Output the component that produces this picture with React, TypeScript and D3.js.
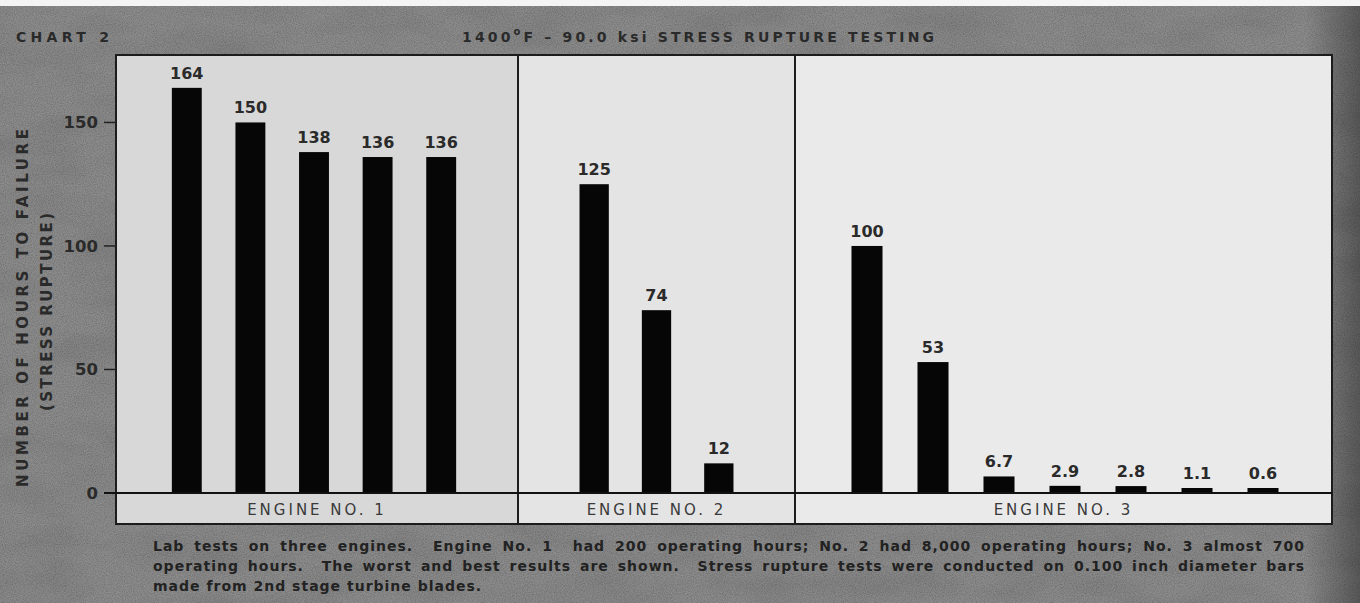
import React, { useLayoutEffect, useRef, useState } from "react";
import * as d3 from "d3";

const engineNames = ["ENGINE NO. 1", "ENGINE NO. 2", "ENGINE NO. 3"];
const engine1Hours = [164, 150, 138, 136, 136];
const engine2Hours = [125, 74, 12];
const engine3Hours = [100, 53, 6.7, 2.9, 2.8, 1.1, 0.6];
const yTicks = [0, 50, 100, 150];
const chartTag = "CHART 2";
const chartTitle = "1400";
const chartTitleRest = "F – 90.0 ksi STRESS RUPTURE TESTING";
const yTitle1 = "NUMBER OF HOURS TO FAILURE";
const yTitle2 = "(STRESS RUPTURE)";
const captionLines = [
  "Lab tests on three engines.  Engine No. 1  had 200 operating hours; No. 2 had 8,000 operating hours; No. 3 almost 700",
  "operating hours.  The worst and best results are shown.  Stress rupture tests were conducted on 0.100 inch diameter bars",
  "made from 2nd stage turbine blades.",
];

const W = 1360;
const H = 603;
const WIDE = "'DejaVu Sans', 'Liberation Sans', sans-serif";

// layout
const panelTop = 55;
const baseY = 493;
const stripBottom = 524;
const panelEdges = [116, 518, 795, 1332];
const panelPads = [
  [39, 45],
  [45, 45],
  [39, 36],
];
const panelFills = ["#d8d8d8", "#e4e4e4", "#eaeaea"];
const captionX = 153;
const captionRight = 1305;

export default function App() {
  const series = [engine1Hours, engine2Hours, engine3Hours];
  const y = d3.scaleLinear().domain([0, 177.3]).range([baseY, panelTop]);

  const panels = series.map((vals, p) => {
    const x0 = panelEdges[p];
    const x1 = panelEdges[p + 1];
    const x = d3
      .scaleBand<number>()
      .domain(d3.range(vals.length))
      .range([x0 + panelPads[p][0], x1 - panelPads[p][1]])
      .paddingInner(0.53)
      .paddingOuter(0.265);
    return { vals, x, x0, x1, p };
  });

  const capRefs = useRef<(SVGTextElement | null)[]>([]);
  const [wordSp, setWordSp] = useState<number[]>([0, 0, 0]);
  useLayoutEffect(() => {
    const ws = captionLines.map((line, i) => {
      const el = capRefs.current[i];
      if (!el || i === 2) return 0;
      const natural = el.getComputedTextLength();
      const spaces = (line.match(/ /g) || []).length;
      return spaces ? (captionRight - captionX - natural) / spaces : 0;
    });
    setWordSp(ws);
  }, []);

  const ink = "#2a2a2a";

  return (
    <svg
      width={W}
      height={H}
      viewBox={`0 0 ${W} ${H}`}
      style={{ position: "absolute", left: 0, top: 0, display: "block" }}
      fontFamily={WIDE}
    >
      <defs>
        <filter id="grain" x="0" y="0" width="100%" height="100%">
          <feTurbulence type="fractalNoise" baseFrequency="0.9" numOctaves="2" seed="3" />
          <feColorMatrix
            type="matrix"
            values="0 0 0 0 0  0 0 0 0 0  0 0 0 0 0  0 0 0 -1.6 1.05"
          />
        </filter>
        <filter id="blot" x="0" y="0" width="100%" height="100%">
          <feTurbulence type="fractalNoise" baseFrequency="0.012 0.03" numOctaves="3" seed="8" />
          <feColorMatrix
            type="matrix"
            values="0 0 0 0 0  0 0 0 0 0  0 0 0 0 0  0 0 0 -0.9 0.55"
          />
        </filter>
        <linearGradient id="rightShade" x1="0" x2="1" y1="0" y2="0">
          <stop offset="0" stopColor="#000" stopOpacity="0" />
          <stop offset="1" stopColor="#000" stopOpacity="0.35" />
        </linearGradient>
      </defs>

      {/* background */}
      <rect x={0} y={0} width={W} height={H} fill="#8c8c8c" />
      <rect x={0} y={0} width={W} height={H} filter="url(#blot)" opacity={0.15} />
      <rect x={0} y={0} width={W} height={H} filter="url(#grain)" opacity={0.22} />
      <rect x={1305} y={0} width={55} height={H} fill="url(#rightShade)" />
      <rect x={0} y={0} width={W} height={6} fill="#f4f4f4" />

      {/* title */}
      <text x={16} y={42} fontSize={14} fontWeight="bold" fill={ink} textLength={93} lengthAdjust="spacing">
        {chartTag}
      </text>
      <text x={462} y={42} fontSize={14} fontWeight="bold" fill={ink} textLength={472} lengthAdjust="spacing">
        {chartTitle}
        <tspan dy={-7} fontSize={10}>o</tspan>
        <tspan dy={7}>{chartTitleRest}</tspan>
      </text>

      {/* panels */}
      {panels.map(({ x0, x1, p }) => (
        <rect key={`pf${p}`} x={x0} y={panelTop} width={x1 - x0} height={stripBottom - panelTop} fill={panelFills[p]} />
      ))}

      {/* bars */}
      {panels.map(({ vals, x, p }) =>
        vals.map((v, i) => {
          const top = Math.min(y(v), baseY - 5);
          return (
            <g key={`b${p}-${i}`}>
              <rect x={x(i)!} y={top} width={x.bandwidth()} height={baseY - top} fill="#060606" />
              <text
                x={x(i)! + x.bandwidth() / 2}
                y={top - 9}
                textAnchor="middle"
                fontSize={16}
                fontWeight="bold"
                fill={ink}
              >
                {String(v)}
              </text>
            </g>
          );
        })
      )}

      {/* category strip labels */}
      {panels.map(({ x0, x1, p }) => (
        <text
          key={`c${p}`}
          x={(x0 + x1) / 2}
          y={515}
          textAnchor="middle"
          fontSize={15}
          fill="#3a3a3a"
          letterSpacing={3}
        >
          {engineNames[p]}
        </text>
      ))}

      {/* frame lines */}
      <rect
        x={panelEdges[0]}
        y={panelTop}
        width={panelEdges[3] - panelEdges[0]}
        height={stripBottom - panelTop}
        fill="none"
        stroke="#1c1c1c"
        strokeWidth={2}
      />
      {panelEdges.slice(1, 3).map((e) => (
        <line key={`d${e}`} x1={e} x2={e} y1={panelTop} y2={stripBottom} stroke="#1c1c1c" strokeWidth={2} />
      ))}
      <line x1={104} x2={panelEdges[3]} y1={baseY} y2={baseY} stroke="#111" strokeWidth={2} />

      {/* y axis */}
      {yTicks.map((t) => (
        <g key={`t${t}`}>
          {t !== 0 && <line x1={104} x2={116} y1={y(t)} y2={y(t)} stroke="#222" strokeWidth={1.5} />}
          <text x={98} y={y(t) + 6} textAnchor="end" fontSize={16.5} fontWeight="bold" fill={ink}>
            {t}
          </text>
        </g>
      ))}
      <text
        transform={`translate(28,${308}) rotate(-90)`}
        textAnchor="middle"
        fontSize={15}
        fontWeight="bold"
        fill={ink}
        textLength={358}
        lengthAdjust="spacing"
      >
        {yTitle1}
      </text>
      <text
        transform={`translate(51.5,${312}) rotate(-90)`}
        textAnchor="middle"
        fontSize={15}
        fontWeight="bold"
        fill={ink}
        textLength={198}
        lengthAdjust="spacing"
      >
        {yTitle2}
      </text>

      {/* caption */}
      {captionLines.map((line, i) => (
        <text
          key={`cap${i}`}
          ref={(el) => {
            capRefs.current[i] = el;
          }}
          x={captionX}
          y={551 + i * 20}
          fontSize={14}
          fontWeight="bold"
          fill="#222"
          letterSpacing={1}
          style={{ whiteSpace: "pre", wordSpacing: `${wordSp[i]}px` }}
        >
          {line}
        </text>
      ))}
    </svg>
  );
}
